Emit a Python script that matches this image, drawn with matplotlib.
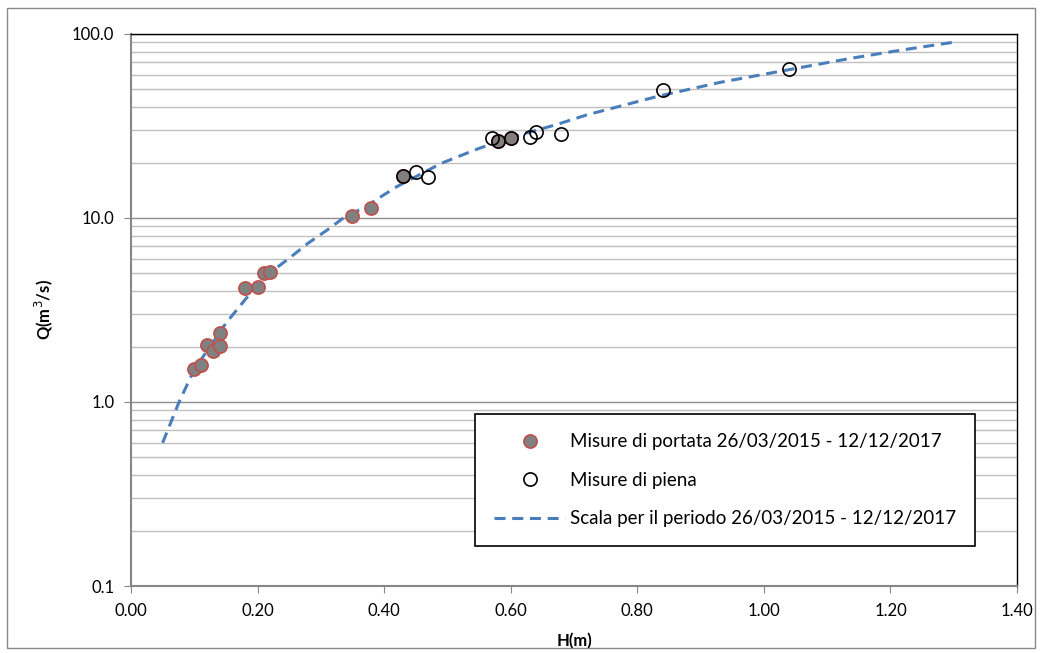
import numpy as np
import matplotlib
matplotlib.use("Agg")
import matplotlib.pyplot as plt
from matplotlib.patches import Rectangle
from matplotlib.ticker import FixedLocator, LogLocator, NullFormatter

plt.rcParams['font.family'] = ['Lato', 'DejaVu Sans']

# misure di portata (gray dots, red edge)
h_portata = [0.10, 0.11, 0.12, 0.13, 0.14, 0.14, 0.18, 0.20, 0.21, 0.22,
             0.35, 0.38, 0.43, 0.58, 0.60]
q_portata = [1.52, 1.59, 2.04, 1.89, 2.36, 2.02, 4.18, 4.20, 5.04, 5.10,
             10.25, 11.4, 17.0, 26.2, 27.3]

# misure di piena (open circles)
h_piena = [0.43, 0.45, 0.47, 0.57, 0.58, 0.60, 0.63, 0.64, 0.68, 0.84, 1.04]
q_piena = [17.0, 17.8, 16.6, 27.3, 26.2, 27.3, 27.4, 29.5, 28.5, 49.6, 64.3]

# scala di deflusso
h_scala = [0.05, 0.076, 0.10, 0.15, 0.19, 0.225, 0.25, 0.28, 0.31, 0.335,
           0.37, 0.42, 0.49, 0.55, 0.61, 0.67, 0.72, 0.83, 0.93, 1.04,
           1.14, 1.22, 1.30]
q_scala = [0.60, 1.00, 1.50, 2.68, 3.95, 5.2, 6.04, 7.3, 8.6, 9.96,
           11.5, 14.8, 19.8, 23.9, 28.0, 32.0, 36.3, 45.6, 54.5, 64.0,
           74.0, 82.0, 90.2]

x_ticks = [0.0, 0.2, 0.4, 0.6, 0.8, 1.0, 1.2, 1.4]
y_ticks = [0.1, 1.0, 10.0, 100.0]

fig = plt.figure(figsize=(10.41, 6.53), dpi=100)
ax = fig.add_axes([0.1258, 0.1026, 0.977 - 0.1258, 0.948 - 0.1026])

# outer chart border
fig.patches.append(Rectangle((0.007, 0.008), 0.987, 0.979, transform=fig.transFigure,
                             fill=False, edgecolor='#898989', linewidth=1))

ax.set_yscale('log')
ax.set_xlim(0, 1.4)
ax.set_ylim(0.1, 100)

ax.yaxis.set_major_locator(FixedLocator(y_ticks))
ax.set_yticklabels(['%.1f' % v for v in y_ticks])
ax.yaxis.set_minor_locator(LogLocator(base=10, subs=np.arange(2, 10)))
ax.yaxis.set_minor_formatter(NullFormatter())
ax.set_xticks(x_ticks)
ax.set_xticklabels(['%.2f' % v for v in x_ticks])

ax.grid(True, which='major', axis='y', color='#8c8c8c', linewidth=1)
ax.grid(True, which='minor', axis='y', color='#c0c0c0', linewidth=1)
ax.set_axisbelow(True)

ax.tick_params(axis='both', which='major', direction='out', length=5,
               color='#868686', labelsize=12, pad=7)
ax.tick_params(axis='y', which='minor', length=0)

for s in ['left', 'bottom']:
    ax.spines[s].set_color('#868686')
    ax.spines[s].set_linewidth(1.5)
for s in ['top', 'right']:
    ax.spines[s].set_color('black')
    ax.spines[s].set_linewidth(1)

ax.plot(h_portata, q_portata, 'o', ms=9.5, mfc='#808080', mec='#C0504D', mew=1.2,
        label='Misure di portata 26/03/2015 - 12/12/2017', zorder=3)
ax.plot(h_piena, q_piena, 'o', ms=9.5, mfc='none', mec='black', mew=1.2,
        label='Misure di piena', zorder=4)
ax.plot(h_scala, q_scala, color='#4A7EBB', lw=2.2, dashes=(3.6, 2.2),
        label='Scala per il periodo 26/03/2015 - 12/12/2017', zorder=2)

ax.set_xlabel('H(m)', fontsize=12, fontweight='bold', labelpad=10)
ax.set_ylabel('Q(m$^3$/s)', fontsize=12, fontweight='bold', labelpad=12)

leg = ax.legend(loc='lower right', bbox_to_anchor=(0.9526, 0.0725),
                fontsize=13.5, frameon=True, fancybox=False, edgecolor='black',
                framealpha=1, borderpad=1.0, labelspacing=1.15, handlelength=3.8,
                handletextpad=0.25, borderaxespad=0)
leg.get_frame().set_linewidth(1.2)

plt.savefig('out.png', dpi=100)
